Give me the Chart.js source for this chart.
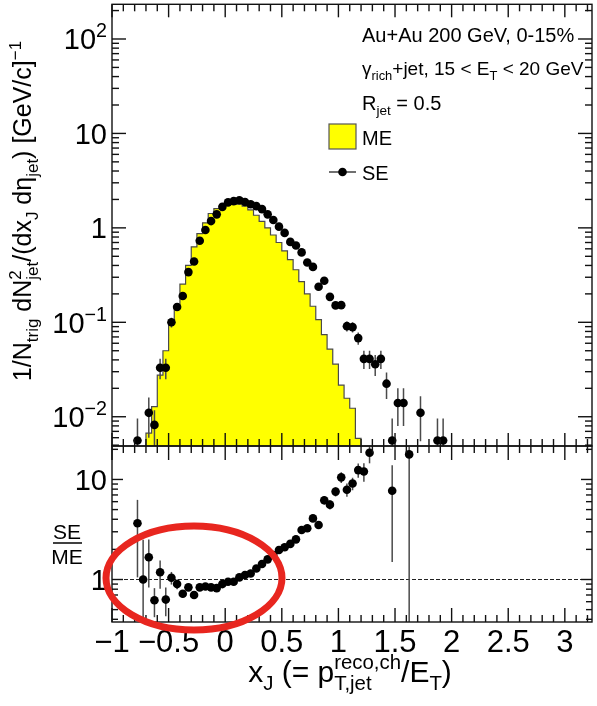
<!DOCTYPE html>
<html lang="en">
<head>
<meta charset="UTF-8">
<title>x_J distribution, same-event vs mixed-event</title>
<script src="https://cdn.jsdelivr.net/npm/chart.js"></script>
<style>
  body { margin: 0; background: #fff; }
  #wrap { position: relative; width: 597px; height: 706px; }
  canvas { position: absolute; left: 0; }
  #top { top: 0; }
  #bottom { top: 440px; }
</style>
</head>
<body>
<div id="wrap">
  <canvas id="top" width="597" height="452"></canvas>
  <canvas id="bottom" width="597" height="266"></canvas>
</div>
<script>
// x_J binning: 0.05 wide bins starting at -1
var binLow = -1.0;
var binWidth = 0.05;

// same-event yield per bin (null = nothing drawn)
var seValues = [
  null, null, null, null, 0.0056, null, 0.011, 0.0082, 0.033, 0.033,
  0.100, 0.145, 0.19, 0.34, 0.44, 0.73, 0.95, 1.18, 1.39, 1.67,
  1.86, 1.92, 1.96, 1.88, 1.78, 1.70, 1.58, 1.39, 1.21, 1.03,
  0.885, 0.71, 0.65, 0.55, 0.43, 0.386, 0.238, 0.275, 0.186, 0.151,
  0.152, 0.091, 0.089, 0.068, 0.041, 0.041, 0.036, 0.041, 0.0224, 0.0056,
  0.014, 0.014, null, null, 0.011, null, null, 0.0056, 0.0056, null
];
var seErrors = [
  0, 0, 0, 0, 0.004, 0, 0.005, 0.0035, 0.008, 0.008,
  0.012, 0.013, 0.015, 0.02, 0.022, 0.03, 0.03, 0.035, 0.035, 0.04,
  0.04, 0.04, 0.04, 0.04, 0.04, 0.035, 0.035, 0.03, 0.03, 0.03,
  0.025, 0.022, 0.02, 0.02, 0.018, 0.017, 0.014, 0.015, 0.012, 0.012,
  0.013, 0.011, 0.011, 0.01, 0.009, 0.009, 0.009, 0.009, 0.007, 0.004,
  0.006, 0.006, 0, 0, 0.0055, 0, 0, 0.004, 0.004, 0
];

// mixed-event yield per bin (0 = empty bin)
var meValues = [
  0, 0, 0, 0, 0, 0, 0.0067, 0.0128, 0.0276, 0.05,
  0.105, 0.15, 0.254, 0.40, 0.63, 0.87, 1.13, 1.42, 1.60, 1.72,
  1.80, 1.82, 1.78, 1.70, 1.55, 1.36, 1.17, 1.0, 0.84, 0.70,
  0.57, 0.46, 0.36, 0.27, 0.20, 0.148, 0.107, 0.074, 0.052, 0.036,
  0.0216, 0.0157, 0.0123, 0.0059, 0, 0
];

// SE/ME ratio per bin
var ratioValues = [
  null, null, null, null, 3.65, 1.0, 1.67, 0.62, 1.18, 0.63,
  1.04, 0.90, 0.72, 0.835, 0.70, 0.835, 0.85, 0.835, 0.82, 0.90,
  0.95, 0.95, 1.05, 1.11, 1.15, 1.29, 1.43, 1.59, 1.76, 1.97,
  2.1, 2.27, 2.52, 3.13, 3.25, 4.08, 3.5, 6.2, 5.6, 7.56,
  10.5, 7.9, 9.1, 12.4, 12.0, 18.5, null, null, null, 7.7,
  null, null, 17.8, null, null, null, null, null, null, null
];
var ratioErrors = [
  0, 0, 0, 0, 2.6, 1.5, 0.84, 0.2, 0.37, 0.2,
  0.15, 0.1, 0.06, 0.05, 0.04, 0.04, 0.03, 0.03, 0.03, 0.03,
  0.03, 0.03, 0.03, 0.03, 0.04, 0.04, 0.05, 0.05, 0.06, 0.07,
  0.08, 0.09, 0.1, 0.15, 0.2, 0.25, 0.3, 0.6, 0.6, 0.8,
  1.3, 1.2, 1.3, 2.0, 2.5, 4.0, 0, 0, 0, 6.2,
  0, 0, 20, 0, 0, 0, 0, 0, 0, 0
];

// axis ticks
var xTicks = [-1, -0.5, 0, 0.5, 1, 1.5, 2, 2.5, 3];
var yTicksTop = [100, 10, 1, 0.1, 0.01];
var yTickLabelsTop = [['10', {sup: '2'}], ['10'], ['1'], ['10', {sup: '\u22121'}], ['10', {sup: '\u22122'}]];
var yTicksBottom = [10, 1];
var yTickLabelsBottom = [['10'], ['1']];

var xMin = -1, xMax = 3.24;
var FONT = '"Liberation Sans", Arial, Helvetica, sans-serif';
var EMPTY = 1e-4; // empty bins sit below the visible range

function font(size) { return size + 'px ' + FONT; }

// parts: plain strings, or {sub: '...'} / {sup: '...'} (both allowed)
function richWidth(ctx, parts, size) {
  var w = 0, small = size * 0.68;
  parts.forEach(function (p) {
    if (typeof p === 'string') {
      ctx.font = font(size);
      w += ctx.measureText(p).width;
    } else {
      ctx.font = font(small);
      w += Math.max(p.sub ? ctx.measureText(p.sub).width : 0, p.sup ? ctx.measureText(p.sup).width : 0);
    }
  });
  return w;
}

function drawRich(ctx, parts, x, y, size, align) {
  var w = richWidth(ctx, parts, size), small = size * 0.68;
  var cx = align === 'right' ? x - w : (align === 'center' ? x - w / 2 : x);
  ctx.textAlign = 'left';
  ctx.textBaseline = 'alphabetic';
  parts.forEach(function (p) {
    if (typeof p === 'string') {
      ctx.font = font(size);
      ctx.fillText(p, cx, y);
      cx += ctx.measureText(p).width;
    } else {
      ctx.font = font(small);
      var adv = 0;
      if (p.sup) {
        ctx.fillText(p.sup, cx, y - size * 0.42);
        adv = ctx.measureText(p.sup).width;
      }
      if (p.sub) {
        ctx.fillText(p.sub, cx, y + size * 0.26);
        adv = Math.max(adv, ctx.measureText(p.sub).width);
      }
      cx += adv;
    }
  });
}

function line(ctx, x1, y1, x2, y2) {
  ctx.beginPath();
  ctx.moveTo(x1, y1);
  ctx.lineTo(x2, y2);
  ctx.stroke();
}

// frame with inward ticks on all four sides
function drawFrame(chart, t) {
  var ctx = chart.ctx, a = chart.chartArea, xs = chart.scales.x, ys = chart.scales.y;
  ctx.save();
  ctx.strokeStyle = '#111';
  ctx.lineWidth = 1.4;
  for (var k = -10; k <= 33; k++) {
    var px = xs.getPixelForValue(k / 10);
    if (px < a.left - 0.5 || px > a.right + 0.5) continue;
    var len = (k % 5 === 0) ? t.xMajor : t.xMinor;
    line(ctx, px, a.bottom, px, a.bottom - len);
    line(ctx, px, a.top, px, a.top + len);
  }
  var lo = Math.floor(Math.log10(ys.min)), hi = Math.ceil(Math.log10(ys.max));
  for (var d = lo; d <= hi; d++) {
    for (var m = 1; m <= 9; m++) {
      var v = m * Math.pow(10, d);
      if (v < ys.min || v > ys.max) continue;
      var py = ys.getPixelForValue(v);
      var l = (m === 1) ? t.yMajor : t.yMinor;
      line(ctx, a.left, py, a.left + l, py);
      line(ctx, a.right, py, a.right - l, py);
    }
  }
  ctx.strokeRect(a.left, a.top, a.right - a.left, a.bottom - a.top);
  ctx.restore();
}

function drawYLabels(chart, ticks, labels, size) {
  var ctx = chart.ctx, a = chart.chartArea, ys = chart.scales.y;
  ctx.save();
  ctx.fillStyle = '#000';
  ticks.forEach(function (v, i) {
    drawRich(ctx, labels[i], a.left - 5, ys.getPixelForValue(v) + size * 0.36, size, 'right');
  });
  ctx.restore();
}

// vertical error bars, drawn under the markers
var errorBarPlugin = {
  id: 'errorBars',
  beforeDatasetDraw: function (chart, args) {
    var ds = chart.data.datasets[args.index];
    if (!ds.errors) return;
    var ctx = chart.ctx, a = chart.chartArea, xs = chart.scales.x, ys = chart.scales.y;
    ctx.save();
    ctx.beginPath();
    ctx.rect(a.left, a.top, a.right - a.left, a.bottom - a.top);
    ctx.clip();
    ctx.strokeStyle = '#4a4a4a';
    ctx.lineWidth = 1.5;
    ds.data.forEach(function (p, i) {
      var e = ds.errors[i];
      if (!e) return;
      var px = xs.getPixelForValue(p.x);
      var top = ys.getPixelForValue(p.y + e);
      var bot = (p.y - e > 0) ? ys.getPixelForValue(p.y - e) : a.bottom + 5;
      line(ctx, px, top, px, bot);
    });
    ctx.restore();
  }
};

function pointsFrom(values, errors) {
  var pts = [], errs = [];
  values.forEach(function (v, i) {
    if (v === null) return;
    pts.push({x: binLow + (i + 0.5) * binWidth, y: v});
    errs.push(errors[i]);
  });
  return {pts: pts, errs: errs};
}

var se = pointsFrom(seValues, seErrors);
var ratio = pointsFrom(ratioValues, ratioErrors);

// histogram outline: one point per low bin edge, held until the next edge
var meSteps = meValues.map(function (v, i) {
  return {x: binLow + i * binWidth, y: v > 0 ? v : EMPTY};
});
meSteps.push({x: binLow + meValues.length * binWidth, y: EMPTY});

var markerStyle = {
  showLine: false,
  pointRadius: 4.3,
  pointHoverRadius: 4.3,
  pointBackgroundColor: '#000',
  pointBorderColor: '#000',
  pointBorderWidth: 0
};

var topDecor = {
  id: 'topDecor',
  afterDraw: function (chart) {
    var ctx = chart.ctx;
    drawFrame(chart, {xMajor: 13, xMinor: 7, yMajor: 14, yMinor: 7});
    drawYLabels(chart, yTicksTop, yTickLabelsTop, 29);

    ctx.save();
    ctx.fillStyle = '#000';
    // y axis title
    ctx.save();
    ctx.translate(31, 211);
    ctx.rotate(-Math.PI / 2);
    drawRich(ctx, ['1/N', {sub: 'trig'}, ' dN', {sup: '2', sub: 'jet'}, '/(dx', {sub: 'J'}, ' d\u03b7', {sub: 'jet'},
      ') [GeV/c]', {sup: '\u22121'}], 0, 0, 25, 'center');
    ctx.restore();

    // collision system and selection
    drawRich(ctx, ['Au+Au 200 GeV, 0-15%'], 362, 42, 20, 'left');
    drawRich(ctx, ['\u03b3', {sub: 'rich'}, '+jet, 15 < E', {sub: 'T'}, ' < 20 GeV'], 362, 75, 19, 'left');
    drawRich(ctx, ['R', {sub: 'jet'}, ' = 0.5'], 362, 110, 20, 'left');

    // legend
    ctx.fillStyle = '#ffff00';
    ctx.fillRect(329, 124, 27, 25);
    ctx.strokeStyle = '#555';
    ctx.lineWidth = 1.2;
    ctx.strokeRect(329, 124, 27, 25);
    ctx.fillStyle = '#000';
    drawRich(ctx, ['ME'], 362, 145, 20, 'left');
    ctx.strokeStyle = '#222';
    ctx.lineWidth = 1.3;
    line(ctx, 329, 172, 356, 172);
    ctx.beginPath();
    ctx.arc(342.5, 172, 4.3, 0, Math.PI * 2);
    ctx.fill();
    drawRich(ctx, ['SE'], 362, 180, 20, 'left');
    ctx.restore();
  }
};

var bottomDecor = {
  id: 'bottomDecor',
  beforeDatasetsDraw: function (chart) {
    var ctx = chart.ctx, a = chart.chartArea, ys = chart.scales.y;
    var py = ys.getPixelForValue(1);
    ctx.save();
    ctx.strokeStyle = '#222';
    ctx.lineWidth = 1;
    ctx.setLineDash([4, 2]);
    line(ctx, a.left, py, a.right, py);
    ctx.restore();
  },
  afterDraw: function (chart) {
    var ctx = chart.ctx, a = chart.chartArea, xs = chart.scales.x;
    drawFrame(chart, {xMajor: 14, xMinor: 7, yMajor: 11, yMinor: 6});
    drawYLabels(chart, yTicksBottom, yTickLabelsBottom, 29);

    ctx.save();
    ctx.fillStyle = '#000';
    // x tick labels
    xTicks.forEach(function (v) {
      var txt = (v < 0 ? '\u2212' : '') + String(Math.abs(v));
      ctx.font = font(31);
      ctx.textAlign = 'center';
      ctx.textBaseline = 'alphabetic';
      ctx.fillText(txt, xs.getPixelForValue(v), 212);
    });
    // x axis title
    drawRich(ctx, ['x', {sub: 'J'}, ' (= p', {sup: 'reco,ch', sub: 'T,jet'}, '/E', {sub: 'T'}, ')'], 350, 242, 30, 'center');

    // SE / ME
    ctx.font = font(21);
    ctx.textAlign = 'center';
    ctx.fillText('SE', 67, 99);
    ctx.fillText('ME', 67, 124);
    ctx.strokeStyle = '#000';
    ctx.lineWidth = 1.5;
    line(ctx, 53, 103, 82, 103);

    // highlight around the low x_J region
    ctx.strokeStyle = '#e8261f';
    ctx.lineWidth = 7;
    ctx.beginPath();
    ctx.ellipse(194, 138, 88, 52, 0, 0, Math.PI * 2);
    ctx.stroke();
    ctx.restore();
  }
};

new Chart(document.getElementById('top'), {
  type: 'line',
  data: {
    datasets: [
      Object.assign({label: 'SE', data: se.pts, errors: se.errs}, markerStyle),
      {
        label: 'ME',
        data: meSteps,
        stepped: 'before',
        borderColor: '#4a4a4a',
        borderWidth: 1.2,
        backgroundColor: '#ffff00',
        fill: 'start',
        pointRadius: 0
      }
    ]
  },
  options: {
    responsive: false,
    animation: false,
    events: [],
    layout: {padding: {left: 112, right: 5, top: 4, bottom: 6}},
    plugins: {legend: {display: false}, tooltip: {enabled: false}},
    scales: {
      x: {type: 'linear', display: false, min: xMin, max: xMax},
      y: {type: 'logarithmic', display: false, min: 0.0049, max: 233}
    }
  },
  plugins: [errorBarPlugin, topDecor]
});

new Chart(document.getElementById('bottom'), {
  type: 'line',
  data: {
    datasets: [
      Object.assign({label: 'SE/ME', data: ratio.pts, errors: ratio.errs}, markerStyle)
    ]
  },
  options: {
    responsive: false,
    animation: false,
    events: [],
    layout: {padding: {left: 112, right: 5, top: 6, bottom: 84}},
    plugins: {legend: {display: false}, tooltip: {enabled: false}},
    scales: {
      x: {type: 'linear', display: false, min: xMin, max: xMax},
      y: {type: 'logarithmic', display: false, min: 0.376, max: 21.6}
    }
  },
  plugins: [errorBarPlugin, bottomDecor]
});
</script>
</body>
</html>
